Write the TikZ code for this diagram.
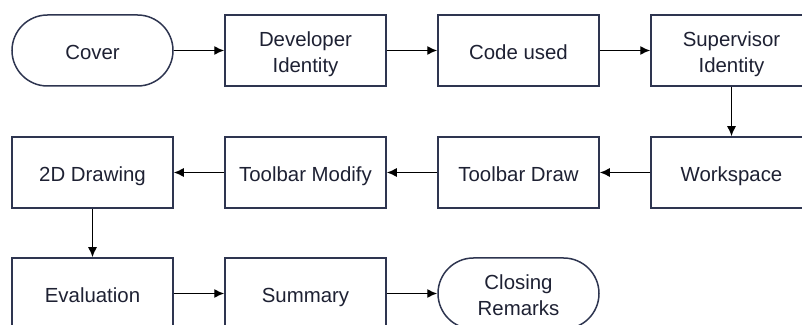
\documentclass[tikz,border=0pt]{standalone}
\usepackage{fontspec}
\setmainfont{Liberation Sans}
\usetikzlibrary{arrows.meta}

\definecolor{boxline}{HTML}{2E3550}
\definecolor{boxtext}{HTML}{1E2133}

% two lines of text, set a little lower in the box
\newcommand{\twolines}[2]{\raisebox{-1.8pt}[\height][\depth]{\begin{tabular}{@{}c@{}}#1\\#2\end{tabular}}}

\begin{document}
\begin{tikzpicture}[x=0.5pt,y=-0.5pt,
    stepbox/.style={draw=boxline,line width=0.75pt,fill=white,text=boxtext,
      minimum width=80.5pt,minimum height=35.5pt,inner sep=0pt,
      font=\fontsize{10.2}{13}\selectfont,
      execute at begin node={\rule[-2.3pt]{0pt}{13.2pt}}},
    termbox/.style={stepbox,rounded corners=17.75pt},
    flow/.style={line width=0.7pt,-{Latex[length=5pt,width=4.5pt]}}]
    \useasboundingbox (0,0) rectangle (802,325);
    \clip (0,0) rectangle (802,325);
    % first row
    \node[termbox] (cover) at (92.5,50.5) {Cover};
    \node[stepbox] (dev) at (305.5,50.5) {\twolines{Developer}{Identity}};
    \node[stepbox] (code) at (518.5,50.5) {Code used};
    \node[stepbox] (sup) at (731.5,50.5) {\twolines{Supervisor}{Identity}};
    % second row
    \node[stepbox] (draw2d) at (92.5,172.5) {2D Drawing};
    \node[stepbox] (tbmod) at (305.5,172.5) {Toolbar Modify};
    \node[stepbox] (tbdraw) at (518.5,172.5) {Toolbar Draw};
    \node[stepbox] (work) at (731.5,172.5) {Workspace};
    % third row
    \node[stepbox] (eval) at (92.5,293.5) {Evaluation};
    \node[stepbox] (summ) at (305.5,293.5) {Summary};
    \node[termbox] (close) at (518.5,293.5) {\twolines{Closing}{Remarks}};
    \foreach \a/\b in {cover/dev,dev/code,code/sup,work/tbdraw,tbdraw/tbmod,
                       tbmod/draw2d,eval/summ,summ/close}{
      \draw[flow] (\a) -- (\b);
    }
    \draw[flow] (sup) -- (work);
    \draw[flow] (draw2d) -- (eval);
\end{tikzpicture}
\end{document}
